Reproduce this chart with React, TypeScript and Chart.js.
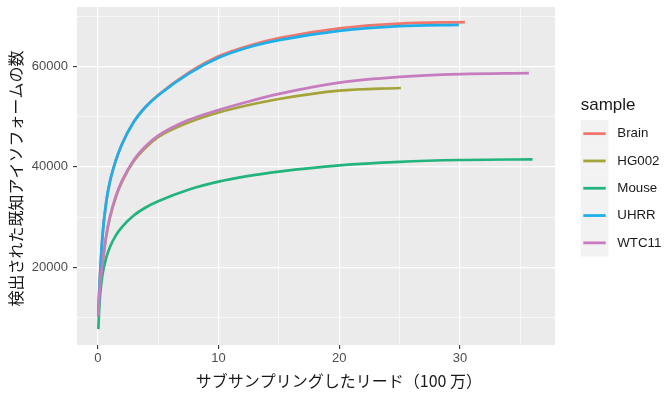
import React, { useEffect, useRef } from "react";
import { Chart, registerables } from "chart.js";

Chart.register(...registerables);

// Samples in legend order, with their line colours
const sampleNames = ["Brain", "HG002", "Mouse", "UHRR", "WTC11"];
const sampleColors = ["#F2766C", "#A5A43B", "#23B47D", "#1EAFEA", "#C67CBE"];

// Subsampled reads (millions) and detected known isoforms for each sample
const brainReads = [0.05, 0.1, 0.2, 0.4, 0.7, 1, 1.5, 2, 3, 4, 5, 7.5, 10, 12.5, 15, 20, 25, 30.4];
const brainIsoforms = [10200, 14000, 19000, 26500, 33000, 37000, 41300, 44500, 49000, 52050, 54300, 58700, 62000, 64100, 65600, 67550, 68500, 68800];

const hg002Reads = [0.05, 0.1, 0.2, 0.4, 0.7, 1, 1.5, 2, 3, 4, 5, 7.5, 10, 12.5, 15, 20, 25.1];
const hg002Isoforms = [10200, 12900, 16600, 20800, 26100, 29800, 34000, 37000, 41200, 43900, 45900, 48800, 50800, 52300, 53500, 55150, 55680];

const mouseReads = [0.05, 0.1, 0.2, 0.4, 0.7, 1, 1.5, 2, 3, 4, 5, 7.5, 10, 12.5, 15, 20, 25, 30, 36];
const mouseIsoforms = [7700, 10800, 14700, 18700, 21900, 24000, 26350, 28000, 30350, 31950, 33150, 35450, 37050, 38200, 39050, 40300, 41000, 41350, 41490];

const uhrrReads = [0.05, 0.1, 0.2, 0.4, 0.7, 1, 1.5, 2, 3, 4, 5, 7.5, 10, 12.5, 15, 20, 25, 29.9];
const uhrrIsoforms = [10200, 14000, 19000, 26500, 33000, 37000, 41300, 44500, 49000, 52000, 54200, 58500, 61700, 63800, 65200, 67050, 68000, 68250];

const wtc11Reads = [0.05, 0.1, 0.2, 0.4, 0.7, 1, 1.5, 2, 3, 4, 5, 7.5, 10, 12.5, 15, 20, 25, 30, 35.7];
const wtc11Isoforms = [10200, 13000, 16800, 21000, 26300, 30000, 34200, 37200, 41400, 44200, 46200, 49300, 51300, 53000, 54500, 56750, 57900, 58450, 58650];

// Axis ticks
const xMajorTicks = [0, 10, 20, 30];
const xMinorTicks = [5, 15, 25, 35];
const yMajorTicks = [20000, 40000, 60000];
const yMinorTicks = [10000, 30000, 50000, 70000];

const xTitle = "サブサンプリングしたリード（100 万）";
const yTitle = "検出された既知アイソフォームの数";
const legendTitle = "sample";

const readsBySample = [brainReads, hg002Reads, mouseReads, uhrrReads, wtc11Reads];
const isoformsBySample = [brainIsoforms, hg002Isoforms, mouseIsoforms, uhrrIsoforms, wtc11Isoforms];

const LATIN = '"Liberation Sans", Arial, Helvetica, sans-serif';
const CJK = '"Noto Sans CJK JP", "Noto Sans", sans-serif';

const panelPlugin = {
  id: "panelBackground",
  beforeDraw(chart: any) {
    const { ctx, chartArea } = chart;
    ctx.save();
    ctx.fillStyle = "#EBEBEB";
    ctx.fillRect(chartArea.left, chartArea.top, chartArea.right - chartArea.left, chartArea.bottom - chartArea.top);
    ctx.restore();
  },
};

const annotationPlugin = {
  id: "titlesAndLegend",
  afterDraw(chart: any) {
    const { ctx, chartArea, height } = chart;
    ctx.save();

    // axis titles
    ctx.fillStyle = "#1A1A1A";
    ctx.font = `16px ${CJK}`;
    ctx.textAlign = "center";
    ctx.textBaseline = "middle";
    ctx.fillText(xTitle, chartArea.left + (chartArea.right - chartArea.left) * 0.548, height - 13);

    ctx.save();
    ctx.translate(16, (chartArea.top + chartArea.bottom) / 2 + 2.5);
    ctx.rotate(-Math.PI / 2);
    ctx.fillText(yTitle, 0, 0);
    ctx.restore();

    // legend
    const keyLeft = chartArea.right + 25.7;
    const keyWidth = 27.6;
    const rowHeight = 27.3;
    const keysTop = 120;
    ctx.textAlign = "left";
    ctx.fillStyle = "#1A1A1A";
    ctx.font = `17px ${LATIN}`;
    ctx.fillText(legendTitle, keyLeft, keysTop - 15);

    sampleNames.forEach((name, i) => {
      const y0 = keysTop + i * rowHeight;
      ctx.fillStyle = "#F2F2F2";
      ctx.fillRect(keyLeft, y0, keyWidth, rowHeight);
      ctx.strokeStyle = sampleColors[i];
      ctx.lineWidth = 2.8;
      ctx.beginPath();
      ctx.moveTo(keyLeft + 2.6, y0 + rowHeight / 2);
      ctx.lineTo(keyLeft + keyWidth - 2.6, y0 + rowHeight / 2);
      ctx.stroke();
      ctx.fillStyle = "#1A1A1A";
      ctx.font = `13.3px ${LATIN}`;
      ctx.fillText(name, keyLeft + keyWidth + 9, y0 + rowHeight / 2);
    });
    ctx.restore();
  },
};

export default function App() {
  const canvasRef = useRef<HTMLCanvasElement | null>(null);

  useEffect(() => {
    const canvas = canvasRef.current;
    if (!canvas) return;

    const datasets = sampleNames.map((name, i) => ({
      label: name,
      data: readsBySample[i].map((x, j) => ({ x, y: isoformsBySample[i][j] })),
      borderColor: sampleColors[i],
      backgroundColor: sampleColors[i],
      borderWidth: 2.7,
      pointRadius: 0,
      fill: false,
      cubicInterpolationMode: "monotone" as const,
      // later samples are drawn on top
      order: sampleNames.length - i,
    }));

    const gridFor = (major: number[]) => ({
      color: "#FFFFFF",
      lineWidth: (c: any) => (major.includes(c.tick?.value) ? 1.2 : 0.6),
      drawTicks: true,
      tickLength: 4,
      tickWidth: 1.1,
      tickColor: (c: any) => (major.includes(c.tick?.value) ? "#333333" : "rgba(0,0,0,0)"),
    });

    const chart = new Chart(canvas, {
      type: "line",
      data: { datasets },
      plugins: [panelPlugin, annotationPlugin],
      options: {
        animation: false,
        responsive: false,
        devicePixelRatio: 1,
        events: [],
        layout: { padding: { top: 7, right: 109, left: 0, bottom: 0 } },
        plugins: { legend: { display: false }, tooltip: { enabled: false } },
        scales: {
          x: {
            type: "linear",
            min: -1.72,
            max: 37.86,
            afterBuildTicks: (s: any) => {
              s.ticks = [...xMajorTicks, ...xMinorTicks].sort((a, b) => a - b).map((v) => ({ value: v }));
            },
            afterFit: (s: any) => {
              s.height = 49;
              s.paddingLeft = 0;
              s.paddingRight = 0;
            },
            grid: gridFor(xMajorTicks),
            border: { display: false },
            ticks: {
              autoSkip: false,
              maxRotation: 0,
              padding: 2,
              color: "#4D4D4D",
              font: { family: LATIN, size: 13 },
              callback: (v: any) => (xMajorTicks.includes(Number(v)) ? String(v) : ""),
            },
          },
          y: {
            type: "linear",
            min: 4540,
            max: 71800,
            afterBuildTicks: (s: any) => {
              s.ticks = [...yMajorTicks, ...yMinorTicks].sort((a, b) => a - b).map((v) => ({ value: v }));
            },
            afterFit: (s: any) => {
              s.width = 77;
              s.paddingTop = 0;
              s.paddingBottom = 0;
            },
            grid: gridFor(yMajorTicks),
            border: { display: false },
            ticks: {
              autoSkip: false,
              padding: 5,
              color: "#4D4D4D",
              font: { family: LATIN, size: 13 },
              callback: (v: any) => (yMajorTicks.includes(Number(v)) ? String(v) : ""),
            },
          },
        },
      },
    });

    return () => chart.destroy();
  }, []);

  return (
    <div style={{ position: "fixed", left: 0, top: 0, width: 664, height: 394, background: "#FFFFFF" }}>
      <canvas ref={canvasRef} width={664} height={394} style={{ width: 664, height: 394, display: "block" }} />
    </div>
  );
}
